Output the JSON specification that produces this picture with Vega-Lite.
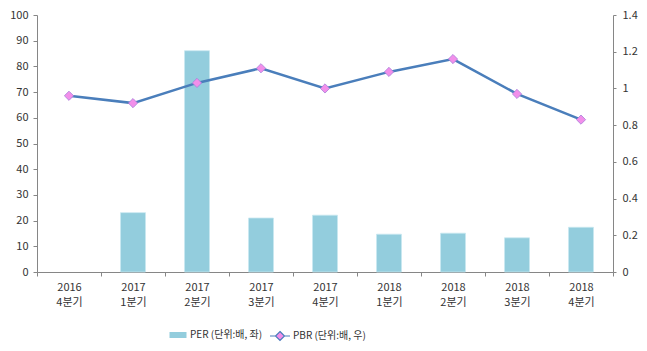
{
  "$schema": "https://vega.github.io/schema/vega-lite/v6.json",
  "width": 576,
  "height": 257,
  "autosize": "none",
  "padding": {"left": 37, "top": 15, "right": 34, "bottom": 79},
  "background": "white",
  "config": {
    "font": "Noto Sans CJK KR",
    "view": {"stroke": null},
    "axis": {
      "labelFont": "Noto Sans CJK KR",
      "labelFontSize": 11,
      "labelColor": "#333333",
      "domainColor": "#868686",
      "tickColor": "#868686",
      "grid": false,
      "title": null
    },
    "legend": {
      "labelFont": "Noto Sans CJK KR",
      "labelFontSize": 10,
      "labelColor": "#333333",
      "padding": 0
    }
  },
  "data": {
    "values": [
      {"q": "2016 4분기", "PER": null, "PBR": 0.96},
      {"q": "2017 1분기", "PER": 23.1, "PBR": 0.92},
      {"q": "2017 2분기", "PER": 86.1, "PBR": 1.03},
      {"q": "2017 3분기", "PER": 21.0, "PBR": 1.11},
      {"q": "2017 4분기", "PER": 22.1, "PBR": 1.0},
      {"q": "2018 1분기", "PER": 14.7, "PBR": 1.09},
      {"q": "2018 2분기", "PER": 15.1, "PBR": 1.16},
      {"q": "2018 3분기", "PER": 13.3, "PBR": 0.97},
      {"q": "2018 4분기", "PER": 17.4, "PBR": 0.83}
    ]
  },
  "encoding": {
    "x": {
      "field": "q",
      "type": "nominal",
      "sort": null,
      "scale": {
        "domain": ["2016 4분기", "2017 1분기", "2017 2분기", "2017 3분기", "2017 4분기", "2018 1분기", "2018 2분기", "2018 3분기", "2018 4분기"],
        "paddingInner": 0,
        "paddingOuter": 0
      },
      "axis": {
        "labelAngle": 0,
        "labelExpr": "split(datum.label, ' ')",
        "labelLineHeight": 15,
        "tickBand": "extent",
        "tickSize": 4,
        "labelPadding": 5
      }
    }
  },
  "layer": [
    {
      "mark": {"type": "bar", "stroke": "#c8e7f0", "strokeWidth": 0.8, "width": {"band": 0.39}},
      "encoding": {
        "y": {
          "field": "PER",
          "type": "quantitative",
          "scale": {"domain": [0, 100], "nice": false},
          "axis": {
            "orient": "left",
            "values": [0, 10, 20, 30, 40, 50, 60, 70, 80, 90, 100],
            "tickSize": 4,
            "labelPadding": 5
          }
        },
        "color": {
          "datum": "PER (단위:배, 좌)",
          "scale": {"range": ["#93CDDD"]},
          "legend": {
            "orient": "none",
            "legendX": 131,
            "legendY": 310,
            "title": null,
            "symbolSize": 400,
            "symbolType": "M-0.85,-0.3H0.85V0.3H-0.85Z",
            "symbolStrokeWidth": 0,
            "labelOffset": 2
          }
        }
      }
    },
    {
      "encoding": {
        "y": {
          "field": "PBR",
          "type": "quantitative",
          "scale": {"domain": [0, 1.4], "nice": false},
          "axis": {
            "orient": "right",
            "values": [0, 0.2, 0.4, 0.6, 0.8, 1, 1.2, 1.4],
            "format": "~g",
            "tickSize": 3,
            "labelPadding": 6
          }
        }
      },
      "layer": [
        {
          "mark": {"type": "line", "strokeWidth": 2.5, "color": "#4A7EBB"},
          "encoding": {}
        },
        {
          "mark": {"type": "point", "shape": "diamond", "filled": true, "stroke": "#A77FD9", "strokeWidth": 0.8, "size": 85, "opacity": 1},
          "encoding": {
            "color": {
              "datum": "PBR (단위:배, 우)",
              "scale": {"range": ["#F28FEA"]},
              "legend": {
                "orient": "none",
                "legendX": 232,
                "legendY": 310,
                "title": null,
                "symbolSize": 400,
                "symbolType": "M-1,0H-0.45M0.45,0H1M0,-0.45L0.45,0L0,0.45L-0.45,0Z",
                "symbolStrokeColor": "#4A7EBB",
                "symbolStrokeWidth": 1.2,
                "labelOffset": 2
              }
            }
          }
        }
      ]
    }
  ],
  "resolve": {"scale": {"y": "independent", "color": "independent"}, "legend": {"color": "independent"}}
}
